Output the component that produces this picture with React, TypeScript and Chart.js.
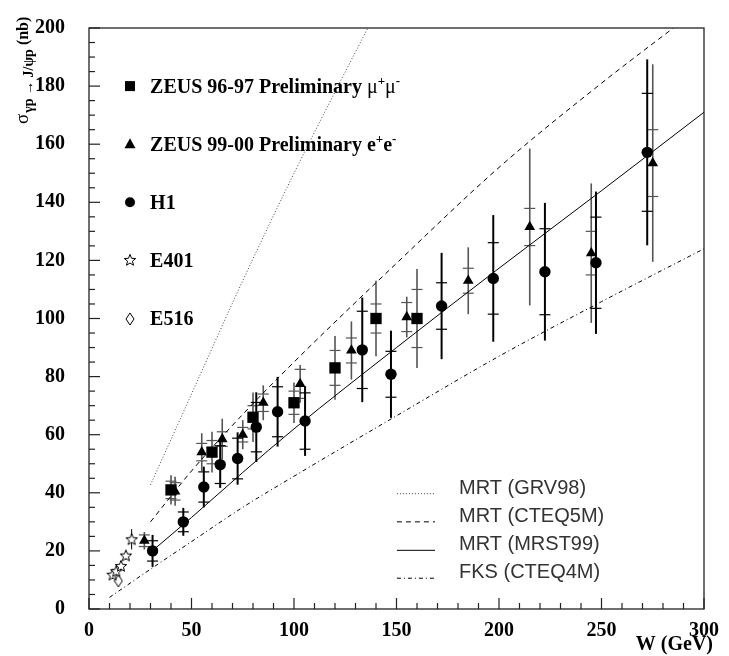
import React, { useEffect, useRef } from 'react';
import { Chart, registerables } from 'chart.js';

Chart.register(...registerables);

// ---------------- data ----------------
const zeus9697W = [40, 60, 80, 100, 120, 140, 160];
const zeus9697Sigma = [41, 54, 66, 71, 83, 100, 100];
const zeus9697Stat = [3, 4, 4, 4, 6, 5, 10];
const zeus9697Tot = [5, 7, 8.5, 7, 11, 13, 17];

const zeus9900W = [27, 42, 55, 65, 75, 85, 103, 128, 155, 185, 215, 245, 275];
const zeus9900Sigma = [23.5, 40.5, 54, 58.5, 60, 71, 77.5, 89, 100.5, 113, 131.5, 122.5, 153.5];
const zeus9900Stat = [2, 3, 3, 2.5, 2.5, 3, 5, 4.3, 5, 4.3, 6.4, 7.5, 11.5];
const zeus9900Tot = [3, 5, 6.5, 7, 5, 6, 6.5, 10, 7, 11.5, 27, 24, 34];

const h1W = [31, 46, 56, 64, 72.5, 81.6, 92, 105.4, 133.3, 147.3, 172, 197.2, 222.4, 247.3, 272.3];
const h1Sigma = [20, 30, 42, 49.7, 51.8, 62.6, 67.9, 64.7, 89.2, 80.8, 104.3, 113.8, 116.1, 119.2, 157.2];
const h1Stat = [3.5, 3.4, 5.2, 6.5, 7, 8.5, 8.6, 9.7, 13.3, 7.9, 8, 12.3, 14.8, 15.7, 20.3];
const h1Tot = [5.5, 4.8, 7, 8, 9, 12, 12, 12, 18, 15, 18.3, 21.8, 23.7, 24.5, 32];

const e401W = [11.5, 13.3, 15.6, 18.0, 20.8];
const e401Sigma = [11.8, 13.0, 14.8, 18.4, 24.0];
const e401Err = [1.5, 1.5, 1.5, 1.5, 3.5];

const e516W = [14.3];
const e516Sigma = [9.7];
const e516Err = [1.5];

const grv98W = [30, 50, 75, 100, 120, 136];
const grv98Sigma = [42.7, 74, 113, 150, 178, 200];
const cteq5mW = [30, 50, 75, 100, 150, 200, 250, 285];
const cteq5mSigma = [30, 47.5, 67, 85, 119, 152, 181, 200];
const mrst99W = [30, 50, 75, 100, 150, 200, 250, 300];
const mrst99Sigma = [19.5, 31.5, 47, 62, 90, 117.3, 144, 171];
const cteq4mW = [10, 30, 50, 75, 100, 150, 200, 250, 300];
const cteq4mSigma = [4, 13.7, 23.2, 35, 45.7, 66.5, 87, 105.8, 124];

const markerLegendLabels = ['ZEUS 96-97', 'ZEUS 99-00', 'H1', 'E401', 'E516'];
const markerLegendY = [180, 160, 140, 120, 100];
const curveLegendLabels = ['MRT (GRV98)', 'MRT (CTEQ5M)', 'MRT (MRST99)', 'FKS (CTEQ4M)'];
const curveLegendY = [39.7, 30, 20.2, 10.6];

const xTicksMax = 300;
const yTicksMax = 200;

const SERIF = "'Liberation Serif', 'Times New Roman', serif";
const SANS = "'Liberation Sans', Arial, sans-serif";

const dashGRV = [1, 2];
const dashCTEQ5 = [5, 4];
const dashMRST: number[] = [];
const dashCTEQ4 = [4, 3, 1, 3];

function makeStar(): HTMLCanvasElement {
  const c = document.createElement('canvas');
  c.width = 14;
  c.height = 14;
  const ctx = c.getContext('2d')!;
  const R = 6, r = 2.6, cx = 7, cy = 7.4;
  ctx.beginPath();
  for (let i = 0; i < 10; i++) {
    const a = -Math.PI / 2 + (i * Math.PI) / 5;
    const rr = i % 2 === 0 ? R : r;
    const px = cx + rr * Math.cos(a), py = cy + rr * Math.sin(a);
    if (i === 0) ctx.moveTo(px, py); else ctx.lineTo(px, py);
  }
  ctx.closePath();
  ctx.fillStyle = '#fff';
  ctx.fill();
  ctx.strokeStyle = '#000';
  ctx.lineWidth = 1;
  ctx.stroke();
  return c;
}

function makeDiamond(): HTMLCanvasElement {
  const c = document.createElement('canvas');
  c.width = 10;
  c.height = 14;
  const ctx = c.getContext('2d')!;
  ctx.beginPath();
  ctx.moveTo(5, 1);
  ctx.lineTo(9, 7);
  ctx.lineTo(5, 13);
  ctx.lineTo(1, 7);
  ctx.closePath();
  ctx.fillStyle = '#fff';
  ctx.fill();
  ctx.strokeStyle = '#000';
  ctx.lineWidth = 1;
  ctx.stroke();
  return c;
}

const pts = (xs: number[], ys: number[]) => xs.map((x, i) => ({ x, y: ys[i] }));

export default function App() {
  const ref = useRef<HTMLCanvasElement>(null);

  useEffect(() => {
    const canvas = ref.current!;
    const starImg = makeStar();
    const diamondImg = makeDiamond();

    Chart.defaults.font.family = SERIF;
    Chart.defaults.font.size = 20;
    Chart.defaults.font.weight = 'bold' as any;
    Chart.defaults.color = '#000';

    const errSeries = [
      { xs: zeus9900W, ys: zeus9900Sigma, stat: zeus9900Stat, tot: zeus9900Tot, color: '#555', w: 1.6 },
      { xs: zeus9697W, ys: zeus9697Sigma, stat: zeus9697Stat, tot: zeus9697Tot, color: '#555', w: 1.6 },
      { xs: h1W, ys: h1Sigma, stat: h1Stat, tot: h1Tot, color: '#000', w: 2 },
      { xs: e401W, ys: e401Sigma, stat: e401Err, tot: e401Err, color: '#000', w: 1 },
      { xs: e516W, ys: e516Sigma, stat: e516Err, tot: e516Err, color: '#000', w: 1 },
    ];

    const curve = (label: string, xs: number[], ys: number[], dash: number[], color: string) => ({
      type: 'line' as const,
      label,
      data: pts(xs, ys),
      showLine: true,
      borderColor: color,
      borderWidth: 1,
      borderDash: dash,
      pointRadius: 0,
      fill: false,
      cubicInterpolationMode: 'monotone' as const,
    });

    const drawMarker = (ctx: CanvasRenderingContext2D, kind: number, x: number, y: number) => {
      ctx.save();
      ctx.fillStyle = '#000';
      if (kind === 0) ctx.fillRect(x - 5, y - 5, 10, 10);
      else if (kind === 1) {
        ctx.beginPath();
        ctx.moveTo(x, y - 6);
        ctx.lineTo(x + 5.5, y + 4);
        ctx.lineTo(x - 5.5, y + 4);
        ctx.closePath();
        ctx.fill();
      } else if (kind === 2) {
        ctx.beginPath();
        ctx.arc(x, y, 5, 0, Math.PI * 2);
        ctx.fill();
      } else {
        const img = kind === 3 ? starImg : diamondImg;
        ctx.drawImage(img, Math.round(x - img.width / 2), Math.round(y - img.height / 2));
      }
      ctx.restore();
    };

    const plugin = {
      id: 'physicsDecor',
      beforeDatasetsDraw(chart: any) {
        const { ctx, chartArea } = chart;
        const xs = chart.scales.x, ys = chart.scales.y;
        ctx.save();
        ctx.beginPath();
        ctx.rect(chartArea.left, chartArea.top, chartArea.right - chartArea.left, chartArea.bottom - chartArea.top);
        ctx.clip();
        for (const s of errSeries) {
          ctx.strokeStyle = s.color;
          ctx.lineWidth = s.w;
          s.xs.forEach((w, i) => {
            const px = xs.getPixelForValue(w);
            const v = s.ys[i];
            const yTop = ys.getPixelForValue(v + s.tot[i]);
            const yBot = ys.getPixelForValue(v - s.tot[i]);
            ctx.beginPath();
            ctx.moveTo(px, yTop);
            ctx.lineTo(px, yBot);
            ctx.stroke();
            if (s.stat !== s.tot) {
              ctx.lineWidth = 1.2;
              for (const sv of [v + s.stat[i], v - s.stat[i]]) {
                const py = ys.getPixelForValue(sv);
                ctx.beginPath();
                ctx.moveTo(px - 5.5, py);
                ctx.lineTo(px + 5.5, py);
                ctx.stroke();
              }
              ctx.lineWidth = s.w;
            }
          });
        }
        ctx.restore();
      },
      afterDraw(chart: any) {
        const { ctx, chartArea } = chart;
        const xs = chart.scales.x, ys = chart.scales.y;
        const { left, right, top, bottom } = chartArea;
        ctx.save();
        // frame
        ctx.strokeStyle = '#222';
        ctx.lineWidth = 1.3;
        ctx.strokeRect(left, top, right - left, bottom - top);
        // ticks inside
        ctx.lineWidth = 1.2;
        for (let v = 0; v <= yTicksMax; v += 5) {
          const py = ys.getPixelForValue(v);
          const len = v % 20 === 0 ? 11 : 6;
          ctx.beginPath();
          ctx.moveTo(left, py);
          ctx.lineTo(left + len, py);
          ctx.stroke();
        }
        for (let w = 0; w <= xTicksMax; w += 10) {
          const px = xs.getPixelForValue(w);
          const len = w % 50 === 0 ? 11 : 6;
          ctx.beginPath();
          ctx.moveTo(px, bottom);
          ctx.lineTo(px, bottom - len);
          ctx.stroke();
        }

        // upper-left marker legend
        ctx.fillStyle = '#000';
        ctx.textBaseline = 'alphabetic';
        const mx = xs.getPixelForValue(20);
        const tx = xs.getPixelForValue(29.8);
        markerLegendLabels.forEach((lab, i) => {
          const py = ys.getPixelForValue(markerLegendY[i]);
          drawMarker(ctx, i, mx, py);
          const base = py + 6.5;
          let x = tx;
          ctx.font = `bold 20px ${SERIF}`;
          if (i === 0) {
            const t = lab + ' Preliminary ';
            ctx.fillText(t, x, base);
            x += ctx.measureText(t).width;
            ctx.font = `20px ${SERIF}`;
            ctx.fillText('\u03bc', x, base);
            x += ctx.measureText('\u03bc').width;
            ctx.font = `bold 13px ${SERIF}`;
            ctx.fillText('+', x, base - 8);
            x += ctx.measureText('+').width;
            ctx.font = `20px ${SERIF}`;
            ctx.fillText('\u03bc', x, base);
            x += ctx.measureText('\u03bc').width;
            ctx.font = `bold 13px ${SERIF}`;
            ctx.fillText('-', x, base - 8);
          } else if (i === 1) {
            const t = lab + ' Preliminary e';
            ctx.fillText(t, x, base);
            x += ctx.measureText(t).width;
            ctx.font = `bold 13px ${SERIF}`;
            ctx.fillText('+', x, base - 8);
            x += ctx.measureText('+').width;
            ctx.font = `bold 20px ${SERIF}`;
            ctx.fillText('e', x, base);
            x += ctx.measureText('e').width;
            ctx.font = `bold 13px ${SERIF}`;
            ctx.fillText('-', x, base - 8);
          } else {
            ctx.fillText(lab, x, base);
          }
        });

        // lower-right curve legend
        const lx0 = xs.getPixelForValue(150.2);
        const lx1 = xs.getPixelForValue(168.8);
        const ltx = xs.getPixelForValue(180.5);
        const dashes = [dashGRV, dashCTEQ5, dashMRST, dashCTEQ4];
        curveLegendLabels.forEach((lab, i) => {
          const py = ys.getPixelForValue(curveLegendY[i]);
          ctx.strokeStyle = i === 0 ? '#444' : '#000';
          ctx.lineWidth = 1;
          ctx.setLineDash(dashes[i]);
          ctx.beginPath();
          ctx.moveTo(lx0, py);
          ctx.lineTo(lx1, py);
          ctx.stroke();
          ctx.setLineDash([]);
          ctx.font = `20px ${SANS}`;
          ctx.fillStyle = '#333';
          ctx.fillText(lab, ltx, py);
        });

        // y-axis title (rotated)
        ctx.fillStyle = '#000';
        ctx.save();
        ctx.translate(28, 124);
        ctx.rotate(-Math.PI / 2);
        ctx.font = `19px ${SERIF}`;
        ctx.fillText('\u03c3', 0, 0);
        let w = ctx.measureText('\u03c3').width + 1;
        ctx.font = `bold 14px ${SERIF}`;
        const sub = '\u03b3p \u2192 J/\u03c8p';
        ctx.fillText(sub, w, 5);
        w += ctx.measureText(sub).width + 4;
        ctx.font = `bold 16px ${SERIF}`;
        ctx.fillText('(nb)', w, 0);
        ctx.restore();

        // x-axis title
        ctx.font = `bold 20px ${SERIF}`;
        ctx.textAlign = 'right';
        ctx.fillText('W (GeV)', 713, 650);
        ctx.restore();
      },
    };

    const tickFont = { family: SERIF, size: 20, weight: 'bold' };

    const chart = new Chart(canvas, {
      type: 'scatter',
      data: {
        datasets: [
          curve('MRT (GRV98)', grv98W, grv98Sigma, dashGRV, '#444'),
          curve('MRT (CTEQ5M)', cteq5mW, cteq5mSigma, dashCTEQ5, '#000'),
          curve('MRT (MRST99)', mrst99W, mrst99Sigma, dashMRST, '#000'),
          curve('FKS (CTEQ4M)', cteq4mW, cteq4mSigma, dashCTEQ4, '#000'),
          {
            label: 'ZEUS 96-97 Preliminary',
            data: pts(zeus9697W, zeus9697Sigma),
            pointStyle: 'rect',
            pointRadius: 8,
            backgroundColor: '#000',
            borderColor: '#000',
            borderWidth: 0,
          },
          {
            label: 'ZEUS 99-00 Preliminary',
            data: pts(zeus9900W, zeus9900Sigma),
            pointStyle: 'triangle',
            pointRadius: 6.2,
            backgroundColor: '#000',
            borderColor: '#000',
            borderWidth: 0,
          },
          {
            label: 'H1',
            data: pts(h1W, h1Sigma),
            pointStyle: 'circle',
            pointRadius: 5.7,
            backgroundColor: '#000',
            borderColor: '#000',
            borderWidth: 0,
          },
          {
            label: 'E401',
            data: pts(e401W, e401Sigma),
            pointStyle: starImg,
            pointRadius: 6,
          },
          {
            label: 'E516',
            data: pts(e516W, e516Sigma),
            pointStyle: diamondImg,
            pointRadius: 6,
          },
        ] as any,
      },
      options: {
        animation: false,
        responsive: false,
        events: [],
        font: tickFont,
        layout: { padding: { top: 13, right: 25, left: 0, bottom: 0 } },
        plugins: { legend: { display: false }, tooltip: { enabled: false } },
        scales: {
          x: {
            type: 'linear',
            min: 0,
            max: xTicksMax,
            afterFit: (s: any) => { s.height = 47; },
            grid: { display: false },
            border: { display: false },
            ticks: {
              stepSize: 50,
              padding: 2,
              maxRotation: 0,
              color: '#000',
              font: tickFont,
            },
          },
          y: {
            type: 'linear',
            min: 0,
            max: yTicksMax,
            afterFit: (s: any) => { s.width = 89; },
            grid: { display: false },
            border: { display: false },
            ticks: {
              stepSize: 20,
              padding: 16,
              color: '#000',
              font: tickFont,
            },
          },
        },
      } as any,
      plugins: [plugin],
    });
    return () => chart.destroy();
  }, []);

  return (
    <div style={{ position: 'absolute', left: 0, top: 0, width: 729, height: 656, background: '#fff' }}>
      <canvas ref={ref} width={729} height={656} style={{ display: 'block' }} />
    </div>
  );
}
